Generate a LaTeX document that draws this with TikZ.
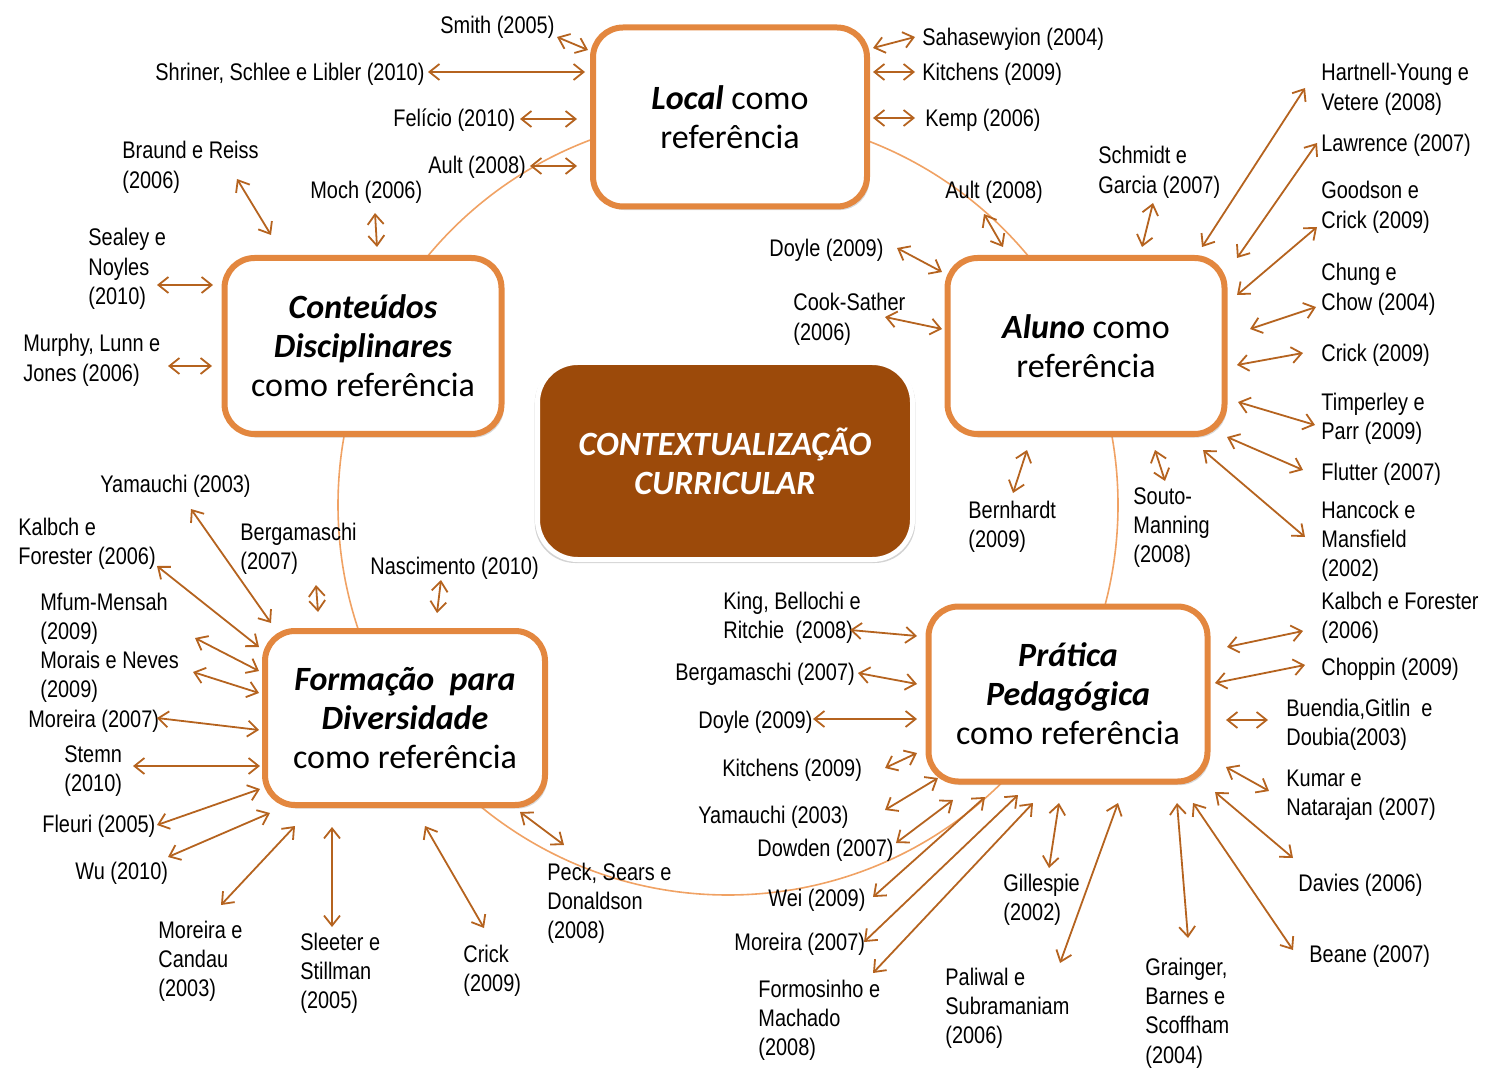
\documentclass[tikz,border=0pt]{standalone}
\usepackage{fontspec}
\setmainfont{Carlito}
\newfontfamily\labfont[FakeStretch=0.83]{Liberation Sans}
\usetikzlibrary{arrows.meta,shadows}
\definecolor{boxorange}{HTML}{E3873F}
\definecolor{ringorange}{HTML}{F0A264}
\definecolor{linkbrown}{HTML}{B5631F}
\definecolor{corebrown}{HTML}{9C4A0A}

\tikzset{
  refbox/.style={draw=boxorange,line width=3pt,fill=white,rounded corners=15pt,
    align=center,inner sep=0pt,font=\fontsize{17}{19.5}\selectfont,
    drop shadow={shadow xshift=1.2pt,shadow yshift=-1.8pt,opacity=.3}},
  corebox/.style={draw=white,line width=2.5pt,fill=corebrown,rounded corners=20pt,
    align=center,inner sep=0pt,text=white,font=\fontsize{17}{19.5}\selectfont\bfseries\itshape,
    drop shadow={shadow xshift=0pt,shadow yshift=-1pt,shadow scale=1.015,opacity=.35}},
  lab/.style={anchor=base west,yshift=-4.5pt,inner sep=0pt,align=left,
    font=\labfont\fontsize{12}{14.7}\selectfont},
  nlines/.style={yshift={-(#1-1)*14.7pt}},
  link/.style={{Straight Barb[length=5pt,width=8pt]}-{Straight Barb[length=5pt,width=8pt]},
    draw=linkbrown,line width=0.9pt}
}

\begin{document}
\begin{tikzpicture}[x=0.5pt,y=-0.5pt]
  \useasboundingbox (0,0) rectangle (1502,1079);
  % ring through the five references
  \draw[ringorange,line width=0.8pt] (728,505) circle [radius=390];

  % the five references and the core
  \node[refbox,minimum width=137pt,minimum height=89.5pt] (local) at (730,117)
    {{\bfseries\itshape Local} como\\referência};
  \node[refbox,minimum width=138.5pt,minimum height=88pt] (conteudos) at (363,346)
    {{\bfseries\itshape Conteúdos}\\{\bfseries\itshape Disciplinares}\\como referência};
  \node[refbox,minimum width=138.5pt,minimum height=88pt] (aluno) at (1086,346)
    {{\bfseries\itshape Aluno} como\\referência};
  \node[refbox,minimum width=140pt,minimum height=87pt] (formacao) at (405,718)
    {{\bfseries\itshape Formação\ \ para}\\{\bfseries\itshape Diversidade}\\como referência};
  \node[refbox,minimum width=139.5pt,minimum height=87.5pt] (pratica) at (1068,694)
    {{\bfseries\itshape Prática}\\{\bfseries\itshape Pedagógica}\\como referência};
  \node[corebox,minimum width=187.5pt,minimum height=98.5pt] (core) at (725,461)
    {CONTEXTUALIZAÇÃO\\CURRICULAR};

  % local
  \node[lab] (smith) at (440,25) {Smith (2005)};
  \node[lab] (shriner) at (155,72) {Shriner, Schlee e Libler (2010)};
  \node[lab] (felicio) at (393,118) {Felício (2010)};
  \node[lab] (aulta) at (428,165) {Ault (2008)};
  \node[lab] (sahasewyion) at (922,37) {Sahasewyion (2004)};
  \node[lab] (kitchensa) at (922,72) {Kitchens (2009)};
  \node[lab] (kemp) at (925,118) {Kemp (2006)};
  \foreach \xa/\ya/\xb/\yb in {557/37/588/50, 428/72/585/72, 520/119/577/119,
      530/166/577/166, 873/48/915/37, 873/72/915/72, 873/118/915/118}
    \draw[link] (\xa,\ya) -- (\xb,\yb);

  % conteudos disciplinares
  \node[lab,nlines=2] (braund) at (122,150) {Braund e Reiss\\(2006)};
  \node[lab] (moch) at (310,190) {Moch (2006)};
  \node[lab,nlines=3] (sealey) at (88,237) {Sealey e\\Noyles\\(2010)};
  \node[lab,nlines=2] (murphy) at (23,343) {Murphy, Lunn e\\Jones (2006)};
  \foreach \xa/\ya/\xb/\yb in {237/179/271/235, 375/213/377/247,
      157/285/213/285, 168/366/212/366}
    \draw[link] (\xa,\ya) -- (\xb,\yb);

  % aluno
  \node[lab] (aultb) at (945,190) {Ault (2008)};
  \node[lab,nlines=2] (schmidt) at (1098,155) {Schmidt e\\Garcia (2007)};
  \node[lab] (doylea) at (769,248) {Doyle (2009)};
  \node[lab,nlines=2] (cook) at (793,302) {Cook-Sather\\(2006)};
  \node[lab,nlines=2] (hartnell) at (1321,72) {Hartnell-Young e\\Vetere (2008)};
  \node[lab] (lawrence) at (1321,143) {Lawrence (2007)};
  \node[lab,nlines=2] (goodson) at (1321,190) {Goodson e\\Crick (2009)};
  \node[lab,nlines=2] (chung) at (1321,272) {Chung e\\Chow (2004)};
  \node[lab] (cricka) at (1321,353) {Crick (2009)};
  \node[lab,nlines=2] (timperley) at (1321,401) {Timperley e\\Parr (2009)};
  \node[lab] (flutter) at (1321,471) {Flutter (2007)};
  \node[lab,nlines=3] (hancock) at (1321,509) {Hancock e\\Mansfield\\(2002)};
  \node[lab,nlines=2] (bernhardt) at (968,509) {Bernhardt\\(2009)};
  \node[lab,nlines=3] (souto) at (1133,495) {Souto-\\Manning\\(2008)};
  \foreach \xa/\ya/\xb/\yb in {984/214/1003/247, 1153/203/1142/247,
      897/248/942/272, 885/317/942/329, 1305/88/1202/247, 1317/143/1237/258,
      1317/227/1237/295, 1316/307/1250/329, 1303/353/1237/365,
      1238/402/1315/425, 1227/437/1303/470, 1203/450/1305/537,
      1027/450/1013/493, 1155/450/1165/481}
    \draw[link] (\xa,\ya) -- (\xb,\yb);

  % formacao para diversidade
  \node[lab] (yamauchia) at (100,483) {Yamauchi (2003)};
  \node[lab,nlines=2] (kalbcha) at (18,526) {Kalbch e\\Forester (2006)};
  \node[lab,nlines=2] (bergamaschia) at (240,531) {Bergamaschi\\(2007)};
  \node[lab] (nascimento) at (370,565) {Nascimento (2010)};
  \node[lab,nlines=2] (mfum) at (40,601) {Mfum-Mensah\\(2009)};
  \node[lab,nlines=2] (morais) at (40,659) {Morais e Neves\\(2009)};
  \node[lab] (moreiraa) at (28,718) {Moreira (2007)};
  \node[lab,nlines=2] (stemn) at (64,753) {Stemn\\(2010)};
  \node[lab] (fleuri) at (42,823) {Fleuri (2005)};
  \node[lab] (wu) at (75,870) {Wu (2010)};
  \node[lab,nlines=3] (candau) at (158,929) {Moreira e\\Candau\\(2003)};
  \node[lab,nlines=3] (sleeter) at (300,941) {Sleeter e\\Stillman\\(2005)};
  \node[lab,nlines=2] (crickb) at (463,953) {Crick\\(2009)};
  \node[lab,nlines=3] (peck) at (547,871) {Peck, Sears e\\Donaldson\\(2008)};
  \foreach \xa/\ya/\xb/\yb in {191/509/271/623, 157/566/259/647,
      316/585/318/612, 441/580/437/613, 195/638/259/671, 193/672/259/693,
      157/718/259/730, 133/766/260/766, 157/825/260/789, 168/857/270/813,
      221/905/295/826, 332/827/332/927, 425/826/484/928, 520/812/564/845}
    \draw[link] (\xa,\ya) -- (\xb,\yb);

  % pratica pedagogica
  \node[lab,nlines=2] (king) at (723,600) {King, Bellochi e\\Ritchie\ \ (2008)};
  \node[lab] (bergamaschib) at (675,671) {Bergamaschi (2007)};
  \node[lab] (doyleb) at (698,719) {Doyle (2009)};
  \node[lab] (kitchensb) at (722,767) {Kitchens (2009)};
  \node[lab] (yamauchib) at (698,814) {Yamauchi (2003)};
  \node[lab] (dowden) at (757,847) {Dowden (2007)};
  \node[lab] (wei) at (768,897) {Wei (2009)};
  \node[lab] (moreirab) at (734,941) {Moreira (2007)};
  \node[lab,nlines=3] (formosinho) at (758,988) {Formosinho e\\Machado\\(2008)};
  \node[lab,nlines=2] (gillespie) at (1003,882) {Gillespie\\(2002)};
  \node[lab,nlines=3] (paliwal) at (945,976) {Paliwal e\\Subramaniam\\(2006)};
  \node[lab,nlines=4] (grainger) at (1145,966) {Grainger,\\Barnes e\\Scoffham\\(2004)};
  \node[lab,nlines=2] (kalbchb) at (1321,600) {Kalbch e Forester\\(2006)};
  \node[lab] (choppin) at (1321,666) {Choppin (2009)};
  \node[lab,nlines=2] (buendia) at (1286,707) {Buendia,Gitlin\ \ e\\Doubia(2003)};
  \node[lab,nlines=2] (kumar) at (1286,777) {Kumar e\\Natarajan (2007)};
  \node[lab] (davies) at (1298,882) {Davies (2006)};
  \node[lab] (beane) at (1309,953) {Beane (2007)};
  \foreach \xa/\ya/\xb/\yb in {850/630/917/636, 858/673/917/684,
      813/719/917/719, 885/768/917/753, 885/810/938/778, 896/843/953/800,
      873/897/985/797, 864/942/1018/795, 873/973/1033/803,
      1059/803/1049/868, 1118/803/1060/963, 1177/803/1188/938,
      1193/803/1293/950, 1215/792/1293/858, 1226/767/1269/791,
      1226/720/1268/720, 1215/683/1305/665, 1227/647/1303/631}
    \draw[link] (\xa,\ya) -- (\xb,\yb);
\end{tikzpicture}
\end{document}
